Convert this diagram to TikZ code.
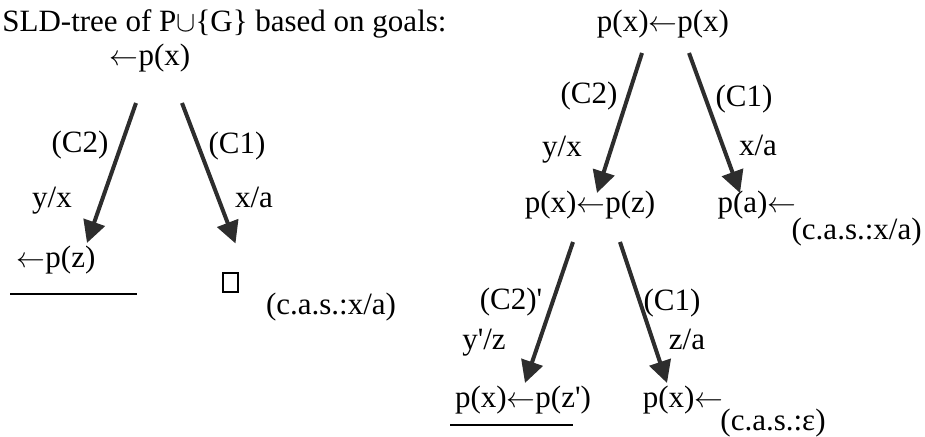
\documentclass[tikz,border=0pt]{standalone}
\usepackage{fontspec}
\setmainfont{Liberation Serif}
\usepackage{tikz}
\usetikzlibrary{arrows.meta, calc}
\definecolor{InkGray}{RGB}{45,45,45}
\newcommand{\lar}{$\leftarrow$}
\tikzset{
  goal/.style={anchor=base, inner sep=0pt, font=\fontsize{15.5}{19}\selectfont},
  lbl/.style={goal},
  titletxt/.style={goal, anchor=base west},
  emptyclause/.style={draw, line width=1.2pt, minimum width=7.5pt, minimum height=9.5pt, inner sep=0pt},
  resarr/.style={-{Triangle[length=11pt, width=11pt]}, line width=2pt, InkGray},
  uline/.style={line width=1pt},
}

\begin{document}
\begin{tikzpicture}[x=0.5pt, y=-0.5pt]
  \useasboundingbox (0,0) rectangle (925,437);
  \node[titletxt] (title) at (2,32) {SLD-tree of P$\cup$\{G\} based on goals:};
  % left tree
  \node[goal] (lroot) at (150,66) {\lar p(x)};
  \node[lbl] (lc2) at (80,153) {(C2)};
  \node[lbl] (lyx) at (52,208) {y/x};
  \node[lbl] (lc1) at (237,154) {(C1)};
  \node[lbl] (lxa) at (254,208) {x/a};
  \node[goal] (lz) at (56,268) {\lar p(z)};
  \node[emptyclause] (lbox) at (230.5,282.5) {};
  \node[lbl] (lcas) at (331,315) {(c.a.s.:x/a)};
  \draw[resarr] ($(lroot.base)+(-14,37)$) -- ($(lz.base)+(31,-25)$);
  \draw[resarr] ($(lroot.base)+(32,37)$) -- ($(lbox)+(5,-39)$);
  \draw[uline] ($(lz.base)+(-46,26)$) -- ($(lz.base)+(81,26)$);
  % right tree
  \node[goal] (rroot) at (663,32) {p(x)\lar p(x)};
  \node[lbl] (rc2) at (589,104) {(C2)};
  \node[lbl] (ryx) at (562,157) {y/x};
  \node[lbl] (rc1) at (744,107) {(C1)};
  \node[lbl] (rxa) at (758,156) {x/a};
  \node[goal] (rz) at (590,213) {p(x)\lar p(z)};
  \node[goal] (ra) at (757,213) {p(a)\lar};
  \node[lbl, anchor=base east] (rcasa) at (922,240) {(c.a.s.:x/a)};
  \node[lbl] (rc2p) at (511,310) {(C2)\textquotesingle};
  \node[lbl] (ryz) at (484,350) {y\textquotesingle/z};
  \node[lbl] (rc1b) at (672,311) {(C1)};
  \node[lbl] (rza) at (687,350) {z/a};
  \node[goal] (rzz) at (523,408) {p(x)\lar p(z\textquotesingle)};
  \node[goal] (rx) at (683,408) {p(x)\lar};
  \node[lbl] (rcase) at (773,430) {(c.a.s.:ε)};
  \draw[resarr] ($(rroot.base)+(-21,21)$) -- ($(rz.base)+(7,-20)$);
  \draw[resarr] ($(rroot.base)+(26,21)$) -- ($(ra.base)+(-17,-20)$);
  \draw[resarr] ($(rz.base)+(-17,29)$) -- ($(rzz.base)+(2,-25)$);
  \draw[resarr] ($(rz.base)+(30,29)$) -- ($(rx.base)+(-16,-25)$);
  \draw[uline] ($(rzz.base)+(-73,17)$) -- ($(rzz.base)+(50,17)$);
\end{tikzpicture}
\end{document}
